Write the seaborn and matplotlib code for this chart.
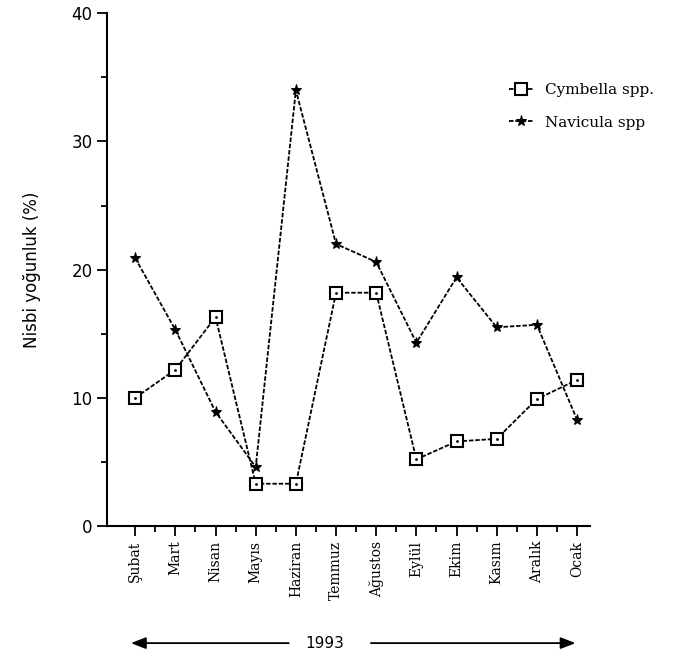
import numpy as np
import pandas as pd
import seaborn as sns
import matplotlib.pyplot as plt
from matplotlib.ticker import MultipleLocator, FixedLocator

# ----------------------------------------------------------------- data
aylar = ["Şubat", "Mart", "Nisan", "Mayıs", "Haziran", "Temmuz",
         "Ağustos", "Eylül", "Ekim", "Kasım", "Aralık", "Ocak"]
cymbella = [10.0, 12.2, 16.3, 3.3, 3.3, 18.2, 18.2, 5.2, 6.6, 6.8, 9.9, 11.4]
navicula = [20.9, 15.3, 8.9, 4.6, 34.0, 22.0, 20.6, 14.3, 19.4, 15.5, 15.7, 8.3]
yil = "1993"

df = pd.DataFrame({"ay": np.arange(len(aylar)),
                   "Cymbella spp.": cymbella,
                   "Navicula spp": navicula})

sns.set_style("ticks")
plt.rcParams["font.family"] = ["DejaVu Sans"]
plt.rcParams.update({"text.color": "black", "axes.labelcolor": "black",
                     "xtick.color": "black", "ytick.color": "black",
                     "axes.edgecolor": "black"})

fig = plt.figure(figsize=(6.78, 6.63), dpi=100)
ax = fig.add_axes([0.158, 0.2066, 0.712, 0.7734])

dash = (0, (2.5, 1))
sns.lineplot(data=df, x="ay", y="Cymbella spp.", ax=ax, color="black",
             linewidth=1.3, linestyle=dash, marker="s", markersize=8,
             markerfacecolor="white", markeredgecolor="black",
             markeredgewidth=1.5, label="Cymbella spp.")
ax.plot(df["ay"], df["Cymbella spp."], linestyle="none", marker=".",
        markersize=2, color="black")
sns.lineplot(data=df, x="ay", y="Navicula spp", ax=ax, color="black",
             linewidth=1.3, linestyle=dash, marker="*", markersize=8,
             markerfacecolor="black", markeredgecolor="black",
             label="Navicula spp")

# eksenler
ax.set_xlim(-0.70, 11.32)
ax.set_ylim(0, 40)
sns.despine(ax=ax)
ax.spines["left"].set_linewidth(1.5)
ax.spines["bottom"].set_linewidth(1.5)

ax.set_xticks(np.arange(len(aylar)))
ax.set_xticklabels(aylar, rotation=90, family="DejaVu Serif", fontsize=10)
ax.xaxis.set_minor_locator(FixedLocator(np.arange(len(aylar)) + 0.5))
ax.yaxis.set_major_locator(MultipleLocator(10))
ax.yaxis.set_minor_locator(MultipleLocator(5))
ax.tick_params(axis="both", which="major", length=7, width=1.3, direction="out")
ax.tick_params(axis="both", which="minor", length=4, width=1.3, direction="out")
ax.tick_params(axis="y", labelsize=12)

ax.set_xlabel("")
ax.set_ylabel("Nisbi yoğunluk (%)", fontsize=12, labelpad=22)

ax.legend(loc="upper left", bbox_to_anchor=(0.73, 0.895),
          bbox_transform=fig.transFigure, frameon=False,
          prop={"family": "DejaVu Serif", "size": 11},
          handlelength=1.6, labelspacing=1.2)

# alttaki yıl okları
fig.text(0.479, 0.030, yil, ha="center", va="center", fontsize=11)
ok = dict(arrowstyle="-|>,head_length=0.9,head_width=0.35", color="black",
          linewidth=1.3)
ax.annotate("", xy=(0.189, 0.030), xytext=(0.430, 0.030),
            xycoords="figure fraction", textcoords="figure fraction",
            arrowprops=ok)
ax.annotate("", xy=(0.853, 0.030), xytext=(0.543, 0.030),
            xycoords="figure fraction", textcoords="figure fraction",
            arrowprops=ok)

fig.savefig("out.png", dpi=100)
